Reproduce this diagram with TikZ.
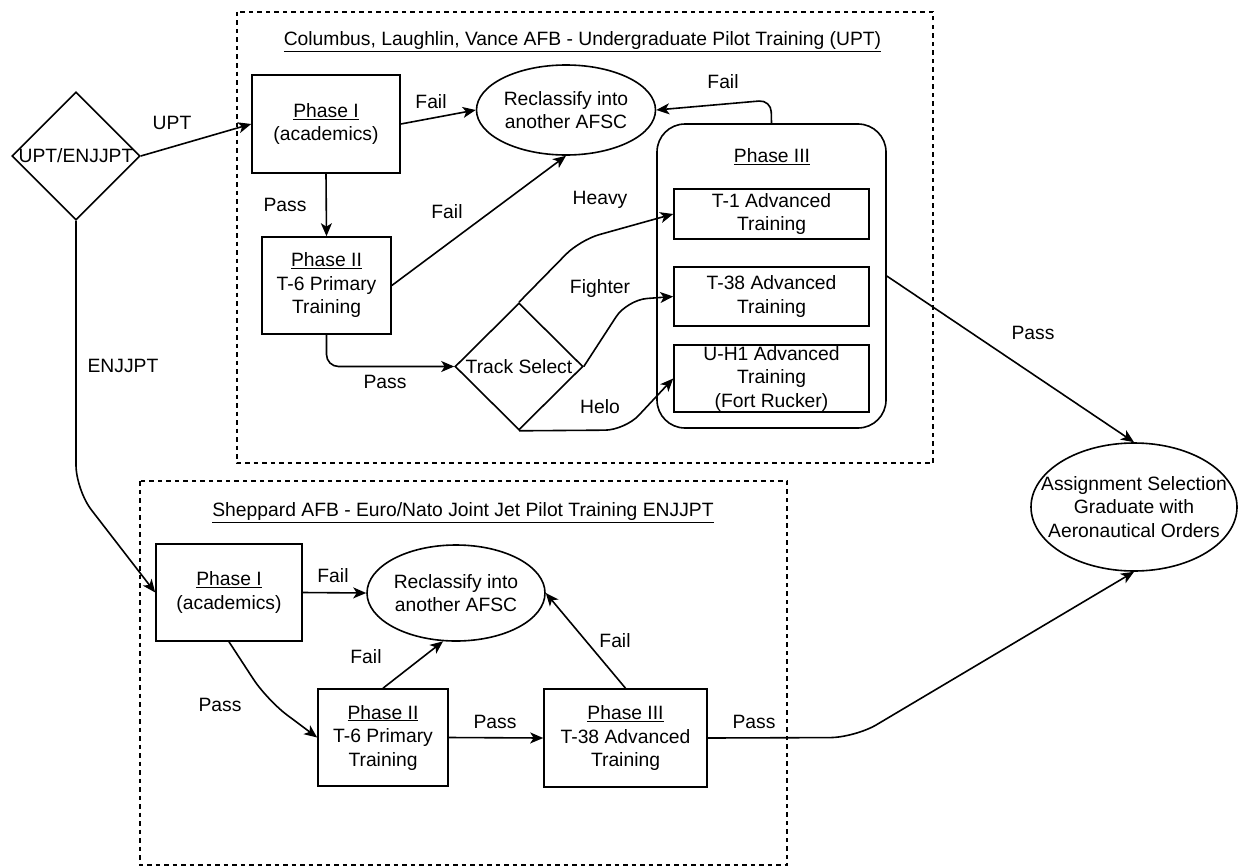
\documentclass[tikz,border=0pt]{standalone}
\usepackage{fontspec}
\setmainfont{Liberation Sans}
\usetikzlibrary{arrows.meta,shapes.geometric}
\begin{document}
\begin{tikzpicture}[x=1pt,y=-1pt,
  font=\fontsize{19.3}{23.5}\selectfont,
  line width=1.6pt,
  box/.style={draw, rectangle, inner sep=0pt, align=center},
  oval/.style={draw, ellipse, inner sep=0pt, align=center},
  dia/.style={draw, diamond, inner sep=0pt, align=center},
  arr/.style={-{Stealth[length=13pt,width=11pt,inset=3.5pt]}},
  frame/.style={dash pattern=on 4.5pt off 4pt, line width=1.4pt}
]
\useasboundingbox (0,0) rectangle (1238,867);

% frames
\draw[frame] (237,12) rectangle (933,463);
\draw[frame] (140,481) rectangle (787,865);
\node (title1) at (582.5,42) {\underline{Columbus, Laughlin, Vance AFB - Undergraduate Pilot Training (UPT)}};
\node (title2) at (463,513) {\underline{Sheppard AFB - Euro/Nato Joint Jet Pilot Training ENJJPT}};

% top nodes
\node[dia, minimum width=128pt, minimum height=128pt, inner xsep=-40pt] (sel) at (76,156) {UPT/ENJJPT};
\node[box, minimum width=148pt, minimum height=98pt] (p1) at (326,124) {\underline{Phase I}\\(academics)};
\node[box, minimum width=129pt, minimum height=97pt] (p2) at (326.5,285.5) {\underline{Phase II}\\T-6 Primary\\Training};
\node[oval, minimum width=179pt, minimum height=90pt] (r1) at (566,110) {Reclassify into\\another AFSC};
\node[draw, rounded corners=28pt, minimum width=229pt, minimum height=304pt] (p3) at (771.5,276) {};
\node (p3t) at (772,157) {\underline{Phase III}};
\node[box, minimum width=195pt, minimum height=50pt] (t1) at (771.5,214) {T-1 Advanced\\Training};
\node[box, minimum width=195pt, minimum height=59pt] (t38) at (771.5,296.5) {T-38 Advanced\\Training};
\node[box, minimum width=195pt, minimum height=67pt] (uh) at (771.5,378.5) {U-H1 Advanced\\Training\\(Fort Rucker)};
\node[dia, minimum width=128pt, minimum height=127pt, inner xsep=-40pt] (ts) at (519,366.5) {Track Select};
\node[oval, minimum width=206pt, minimum height=128pt, inner xsep=-30pt] (as) at (1134,507) {Assignment Selection\\Graduate with\\Aeronautical Orders};

% bottom nodes
\node[box, minimum width=146pt, minimum height=97pt] (b1) at (229,592.5) {\underline{Phase I}\\(academics)};
\node[oval, minimum width=178pt, minimum height=96pt] (b4) at (456,593) {Reclassify into\\another AFSC};
\node[box, minimum width=130pt, minimum height=97pt] (b2) at (383,737.5) {\underline{Phase II}\\T-6 Primary\\Training};
\node[box, minimum width=163pt, minimum height=98pt] (b3) at (625.5,738) {\underline{Phase III}\\T-38 Advanced\\Training};

% top edges
\draw[arr] (sel.east) -- (p1.west);
\node (lupt) at (172,123) {UPT};
\draw[arr] (p1.south) -- (p2.north);
\node (lp1) at (285,205) {Pass};
\draw[arr] (p1.east) -- (r1.west);
\node (lf1) at (431,102) {Fail};
\draw[arr] (p2.east) -- (r1.south);
\node (lf2) at (447,212) {Fail};
\draw[arr, rounded corners=12pt] (p2.south) |- (ts.west);
\node (lp2) at (385,382) {Pass};
\draw[arr, rounded corners=20pt] (ts.north) -- (580,240) -- (t1.west);
\node (lh) at (600,200) {Heavy};
\draw[arr, rounded corners=20pt] (ts.east) -- (627,300) -- (t38.west);
\node (lfi) at (600,289) {Fighter};
\draw[arr, rounded corners=20pt] (ts.south) -- (625,430) -- (uh.west);
\node (lhe) at (600,407) {Helo};
\draw[arr, rounded corners=12pt] (p3.north) -- (771,100) -- (r1.east);
\node (lf3) at (723,82) {Fail};
\draw[arr] (p3.east) -- (as.north);
\node (lp3) at (1033,333) {Pass};
\draw[arr, rounded corners=25pt] (sel.south) -- (76,490) -- (b1.west);
\node (lenj) at (123,366) {ENJJPT};

% bottom edges
\draw[arr] (b1.east) -- (b4.west);
\node (lbf1) at (333,576) {Fail};
\draw[arr, rounded corners=25pt] (b1.south) -- (267,700) -- (b2.west);
\node (lbp1) at (220,705) {Pass};
\draw[arr] (b2.north) -- (b4.255);
\node (lbf2) at (366,657) {Fail};
\draw[arr] (b2.east) -- (b3.west);
\node (lbp2) at (495,722) {Pass};
\draw[arr] (b3.north) -- (b4.east);
\node (lbf3) at (615,641) {Fail};
\draw[arr, rounded corners=25pt] (b3.east) -- (855,737.5) -- (as.south);
\node (lbp3) at (754,722) {Pass};
\end{tikzpicture}
\end{document}
